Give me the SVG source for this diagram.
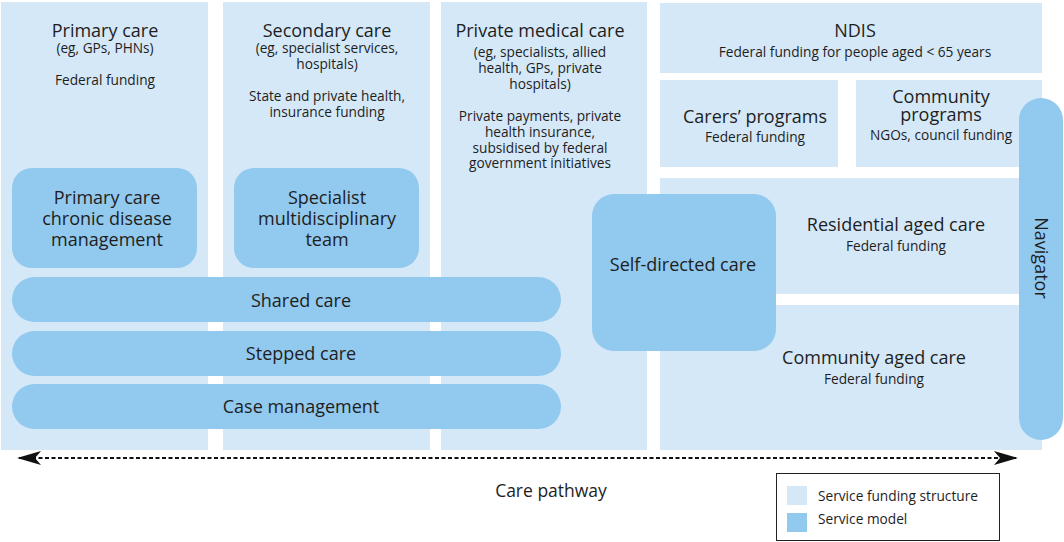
<svg xmlns="http://www.w3.org/2000/svg" width="1064" height="542" viewBox="0 0 1064 542">
<defs>
<style>
.fund{fill:#d5e8f7}
.model{fill:#92c9ee}
text{font-family:"Open Sans","Noto Sans","Liberation Sans",sans-serif;fill:#1e1e1e;text-anchor:middle}
.t{font-size:18px}
.s{font-size:13.7px}
.conn{stroke:#111;stroke-width:2;stroke-dasharray:4 2.5;fill:none}
</style>
<marker id="ah" viewBox="0 0 24 16" refX="22" refY="8" markerWidth="24" markerHeight="16" markerUnits="userSpaceOnUse" orient="auto-start-reverse">
<path d="M0,1 L24,8 L0,15 L6,8 Z" fill="#111"/>
</marker>
</defs>
<rect width="1064" height="542" fill="#fff"/>

<g id="primary-care">
<rect class="fund" x="1" y="2" width="207" height="448"/>
<text class="t" x="105" y="37">Primary care</text>
<text class="s" x="105" y="53">(eg, GPs, PHNs)</text>
<text class="s" x="105" y="85">Federal funding</text>
</g>
<g id="secondary-care">
<rect class="fund" x="223" y="2" width="207" height="448"/>
<text class="t" x="327" y="37">Secondary care</text>
<text class="s" x="327" y="53">(eg, specialist services,</text>
<text class="s" x="327" y="69">hospitals)</text>
<text class="s" x="327" y="101">State and private health,</text>
<text class="s" x="327" y="117">insurance funding</text>
</g>
<g id="private-medical-care">
<rect class="fund" x="441" y="2" width="206" height="448"/>
<text class="t" x="540" y="37">Private medical care</text>
<text class="s" x="540" y="57">(eg, specialists, allied</text>
<text class="s" x="540" y="73">health, GPs, private</text>
<text class="s" x="540" y="89">hospitals)</text>
<text class="s" x="540" y="121">Private payments, private</text>
<text class="s" x="540" y="137">health insurance,</text>
<text class="s" x="540" y="153">subsidised by federal</text>
<text class="s" x="540" y="168">government initiatives</text>
</g>
<g id="ndis">
<rect class="fund" x="660" y="3" width="382" height="70"/>
<text class="t" x="855" y="37">NDIS</text>
<text class="s" x="855" y="57">Federal funding for people aged &lt; 65 years</text>
</g>
<g id="carers-programs">
<rect class="fund" x="660" y="80" width="178" height="87"/>
<text class="t" x="755" y="123">Carers’ programs</text>
<text class="s" x="755" y="142">Federal funding</text>
</g>
<g id="community-programs">
<rect class="fund" x="856" y="80" width="186" height="87"/>
<text class="t" x="941" y="103">Community</text>
<text class="t" x="941" y="121">programs</text>
<text class="s" x="941" y="140">NGOs, council funding</text>
</g>
<g id="residential-aged-care">
<rect class="fund" x="660" y="178" width="382" height="116"/>
<text class="t" x="896" y="231">Residential aged care</text>
<text class="s" x="896" y="251">Federal funding</text>
</g>
<g id="community-aged-care">
<rect class="fund" x="660" y="305" width="382" height="145"/>
<text class="t" x="874" y="364">Community aged care</text>
<text class="s" x="874" y="384">Federal funding</text>
</g>

<g id="primary-care-chronic-disease-management">
<rect class="model" x="12" y="168" width="185" height="100" rx="20"/>
<text class="t" x="107" y="204">Primary care</text>
<text class="t" x="107" y="225">chronic disease</text>
<text class="t" x="107" y="246">management</text>
</g>
<g id="specialist-multidisciplinary-team">
<rect class="model" x="234" y="168" width="185" height="100" rx="20"/>
<text class="t" x="327" y="204">Specialist</text>
<text class="t" x="327" y="225">multidisciplinary</text>
<text class="t" x="327" y="246">team</text>
</g>
<g id="shared-care">
<rect class="model" x="12" y="277" width="549" height="45" rx="22.5"/>
<text class="t" x="301" y="307">Shared care</text>
</g>
<g id="stepped-care">
<rect class="model" x="12" y="331" width="549" height="45" rx="22.5"/>
<text class="t" x="301" y="360">Stepped care</text>
</g>
<g id="case-management">
<rect class="model" x="12" y="384" width="549" height="45" rx="22.5"/>
<text class="t" x="301" y="413">Case management</text>
</g>
<g id="self-directed-care">
<rect class="model" x="592" y="194" width="184" height="157" rx="22"/>
<text class="t" x="683" y="271">Self-directed care</text>
</g>
<g id="navigator">
<rect class="model" x="1019" y="98" width="44" height="342" rx="22"/>
<text class="t" transform="translate(1035,258) rotate(90)" x="0" y="0">Navigator</text>
</g>

<g id="connectors">
<line class="conn" x1="19" y1="458" x2="1016" y2="458" marker-start="url(#ah)" marker-end="url(#ah)"/>
</g>
<g id="care-pathway-label">
<text x="551" y="497" style="font-size:17.5px">Care pathway</text>
</g>

<g id="legend">
<rect x="776.5" y="473.5" width="223" height="67" fill="#fff" stroke="#222" stroke-width="1"/>
<rect class="fund" x="787" y="486" width="20" height="19"/>
<rect class="model" x="787" y="513" width="20" height="19"/>
<text class="s" x="818" y="501" style="text-anchor:start">Service funding structure</text>
<text class="s" x="818" y="524" style="text-anchor:start">Service model</text>
</g>
</svg>
